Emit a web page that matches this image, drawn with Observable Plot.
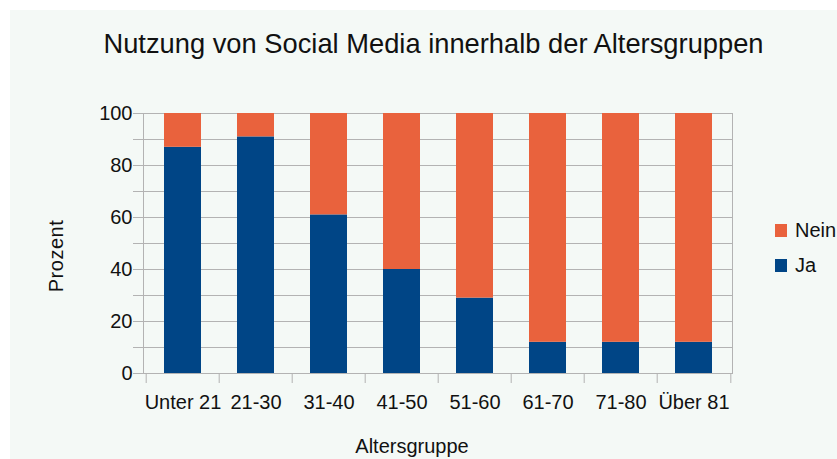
<!DOCTYPE html>
<html><head><meta charset="utf-8">
<script src="https://cdn.jsdelivr.net/npm/d3@7"></script>
<script src="https://cdn.jsdelivr.net/npm/@observablehq/plot@0.6"></script>
<style>
html,body{margin:0;padding:0;background:#fff;}
body{width:837px;height:459px;position:relative;overflow:hidden;font-family:"Liberation Sans",Arial,sans-serif;color:#111;}
#bg{position:absolute;left:10px;top:10px;right:0;bottom:0;background:#f4f9f6;}
#title{position:absolute;left:0;width:867px;top:30px;line-height:27px;text-align:center;font-size:27.3px;white-space:nowrap;}
#chart{position:absolute;left:0;top:85px;}
#ylab{position:absolute;left:56px;top:256px;transform:translate(-50%,-50%) rotate(-90deg);font-size:20px;letter-spacing:0.5px;white-space:nowrap;}
#xlab{position:absolute;left:412px;top:436px;transform:translateX(-50%);font-size:20px;line-height:21px;white-space:nowrap;}
#legend{position:absolute;left:775px;top:220px;font-size:20px;}
#legend div{display:flex;align-items:center;height:21px;margin-bottom:14px;}
#legend span.sw{display:inline-block;width:12px;height:13px;margin-right:8px;}
</style></head><body>
<div id="bg"></div>
<div id="title">Nutzung von Social Media innerhalb der Altersgruppen</div>
<div id="chart"></div>
<div id="ylab">Prozent</div>
<div id="xlab">Altersgruppe</div>
<div id="legend"></div>
<script>
const groups = ["Unter 21","21-30","31-40","41-50","51-60","61-70","71-80","Über 81"];
const ja   = [87, 91, 61, 40, 29, 12, 12, 12];
const nein = [13,  9, 39, 60, 71, 88, 88, 88];
const seriesNames = ["Ja","Nein"];
const seriesColors = ["#004586","#e9623d"];
const yTicks = [0,20,40,60,80,100];
const yGrid = [0,10,20,30,40,50,60,70,80,90,100];

const data = [];
groups.forEach((g,i)=>{ data.push({group:g, series:"Ja", value:ja[i]}); });
groups.forEach((g,i)=>{ data.push({group:g, series:"Nein", value:nein[i]}); });

const W = 837, H = 374, ml = 143, mr = 105, mt = 28, mb = 86;
const step = (W - ml - mr) / groups.length;
const grid = "#b3b3b3";

const chart = Plot.plot({
  width: W, height: H,
  marginLeft: ml, marginRight: mr, marginTop: mt, marginBottom: mb,
  style: {background: "transparent", fontFamily: "'Liberation Sans', Arial, sans-serif", color: "#111"},
  x: {domain: groups, paddingInner: 0.5, paddingOuter: 0.25, label: null},
  y: {domain: [0, 100], label: null},
  color: {domain: seriesNames, range: seriesColors},
  marks: [
    Plot.gridY(yGrid, {stroke: grid, strokeOpacity: 1}),
    Plot.axisY(yGrid, {tickSize: 10, tickFormat: () => "", stroke: grid, strokeOpacity: 1, label: null}),
    Plot.axisY(yTicks, {tickSize: 0, tickPadding: 11, fontSize: 20, fill: "#111", label: null}),
    Plot.barY(data, {x: "group", y: "value", fill: "series", order: seriesNames}),
    Plot.frame({anchor: "left", stroke: grid}),
    Plot.frame({anchor: "right", stroke: grid}),
    Plot.ruleX(groups, {x: d => d, dx: -step/2, y1: 0, y2: 0, insetBottom: -10, stroke: grid}),
    Plot.ruleX([groups[groups.length-1]], {x: d => d, dx: step/2, y1: 0, y2: 0, insetBottom: -10, stroke: grid}),
    Plot.axisX({tickSize: 0, tickPadding: 21, fontSize: 20, fill: "#111", label: null})
  ]
});
document.getElementById("chart").appendChild(chart);

const leg = document.getElementById("legend");
[["Nein", seriesColors[1]], ["Ja", seriesColors[0]]].forEach(([n,c])=>{
  const d = document.createElement("div");
  d.innerHTML = `<span class="sw" style="background:${c}"></span><span>${n}</span>`;
  leg.appendChild(d);
});
</script>
</body></html>
